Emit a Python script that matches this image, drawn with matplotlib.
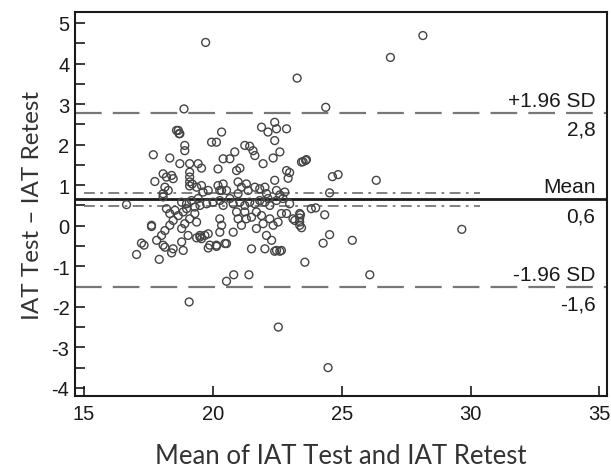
import matplotlib
matplotlib.use("Agg")
import matplotlib.pyplot as plt
from matplotlib.ticker import MultipleLocator

plt.rcParams['axes.unicode_minus'] = False

# mean of test and retest (x) and difference test - retest (y)
mean_vals = [
    19.72, 23.27, 18.88, 24.38, 28.15, 26.89,
    18.66, 18.72, 20.34, 19.95, 20.14, 17.69, 18.91, 18.91, 18.33, 18.72,
    19.10, 19.43, 19.56, 19.10, 19.10, 19.10, 19.10,
    20.40, 20.66, 20.85, 20.20, 20.92, 21.05,
    21.24, 21.43, 21.56, 21.63, 21.95, 22.34, 22.60,
    21.89, 22.14, 22.40, 22.47, 22.86, 22.40,
    22.86, 22.98, 22.92, 23.44, 23.63, 22.40,
    17.75, 18.07, 18.20, 18.40, 18.46, 18.14, 18.27, 18.07,
    19.37, 19.56, 19.62, 19.82, 20.20, 20.40, 20.34, 20.53,
    20.98, 21.11, 20.98, 21.30, 21.37, 21.63, 21.82, 22.02, 22.08, 22.47, 22.60, 22.79,
    23.82, 16.65,
    18.07, 18.79, 18.98, 19.17, 19.43, 19.50, 19.76, 20.01, 20.27, 20.40, 20.66, 20.79,
    21.05, 21.24, 21.43, 21.63, 21.82, 22.02, 22.14, 22.21, 22.47, 22.72, 22.98,
    18.20, 18.33, 18.53, 18.66, 18.85, 18.98, 19.10, 19.30, 19.37, 18.91, 18.79,
    18.46, 18.33, 18.14, 18.01, 17.82, 17.62, 18.07, 18.46, 18.79, 18.85, 19.04,
    19.50, 19.56, 19.82, 19.88, 20.14, 20.27, 20.34, 20.27, 20.53, 20.79,
    20.92, 20.98, 21.11, 21.24, 21.30, 21.50, 21.69, 21.89, 21.95,
    22.21, 22.34, 22.53, 22.66, 22.86, 22.08, 22.28, 22.47, 22.66,
    23.11, 23.37, 23.37, 21.50, 21.69,
    19.82, 20.14, 22.02, 22.40, 22.60, 18.40, 19.37, 19.50, 19.69, 20.47,
    17.23, 17.33, 17.04, 17.92, 18.14, 17.62,
    24.53, 23.99, 24.34, 23.18, 23.37, 23.40, 24.53, 24.28, 25.41, 23.57,
    26.09, 29.66, 26.34, 24.64, 24.86, 23.50, 23.60,
    24.47, 22.54, 19.08, 20.53, 20.81, 21.40,
    23.37, 23.44, 19.30, 19.20, 20.27, 18.59, 18.69,
]
diff_vals = [
    4.52, 3.64, 2.88, 2.92, 4.69, 4.15,
    2.35, 2.27, 2.31, 2.06, 2.06, 1.75, 1.98, 1.85, 1.67, 1.53,
    1.53, 1.53, 1.42, 1.32, 1.20, 1.08, 0.98,
    1.65, 1.65, 1.82, 1.40, 1.36, 1.42,
    1.98, 1.96, 1.85, 1.73, 1.53, 1.67, 1.82,
    2.43, 2.31, 2.55, 2.39, 2.39, 2.10,
    1.36, 1.31, 1.17, 1.57, 1.63, 1.12,
    1.09, 1.28, 1.20, 1.24, 1.16, 0.95, 0.87, 0.79,
    0.95, 0.99, 0.83, 0.87, 0.99, 1.03, 0.87, 0.87,
    1.08, 0.95, 0.79, 1.03, 0.87, 0.95, 0.91, 0.95, 0.79, 0.87, 0.76, 0.83,
    0.42, 0.52,
    0.71, 0.58, 0.54, 0.62, 0.67, 0.50, 0.54, 0.58, 0.62, 0.50, 0.67, 0.54,
    0.58, 0.50, 0.58, 0.54, 0.62, 0.58, 0.67, 0.50, 0.62, 0.67, 0.54,
    0.42, 0.30, 0.38, 0.25, 0.34, 0.42, 0.17, 0.30, 0.09, 0.05, -0.07,
    0.13, 0.01, -0.12, -0.24, -0.36, 0.01, -0.48, -0.57, -0.40, -0.61, -0.24,
    -0.24, -0.32, -0.20, -0.48, -0.48, 0.17, 0.01, -0.16, -0.44, -0.16,
    0.34, 0.17, 0.01, 0.34, 0.17, 0.21, 0.34, 0.25, 0.05,
    0.17, 0.01, 0.09, 0.30, 0.30, -0.24, -0.36, -0.61, -0.61,
    0.17, 0.09, 0.30, -0.57, -0.07,
    -0.55, -0.51, -0.57, -0.63, -0.63, -0.67, -0.30, -0.28, -0.24, -0.44,
    -0.43, -0.48, -0.71, -0.83, -0.53, -0.02,
    0.81, 0.44, 0.27, 0.13, 0.01, 0.27, -0.22, -0.43, -0.36, -0.90,
    -1.21, -0.09, 1.12, 1.21, 1.26, 1.58, 1.61,
    -3.50, -2.50, -1.88, -1.37, -1.21, -1.21,
    0.19, -0.05, 0.46, 1.03, 0.87, 2.35, 2.27,
]

mean_diff = 0.65
upper_loa = 2.79
lower_loa = -1.52
ci_high = 0.81
ci_low = 0.485

fig = plt.figure(figsize=(6.11, 4.77), dpi=100)
ax = fig.add_axes([0.1227, 0.1677, 0.871, 0.805])

ax.scatter(mean_vals, diff_vals, s=32, facecolors='none', edgecolors='#444444',
           linewidths=1.0, zorder=3)

ax.axhline(mean_diff, color='#1a1a1a', lw=2.0, zorder=2)
ax.axhline(upper_loa, color='#777777', lw=1.6, dashes=(12, 5), zorder=2)
ax.axhline(lower_loa, color='#777777', lw=1.6, dashes=(12, 5), zorder=2)
ax.plot([15, 30.35], [ci_high, ci_high], color='#777777', lw=1.3,
        dashes=(6, 3, 1.5, 3), zorder=2)
ax.plot([15, 30.35], [ci_low, ci_low], color='#777777', lw=1.3,
        dashes=(6, 3, 1.5, 3), zorder=2)

# labels for the lines, right side
lbl = dict(ha='right', fontsize=15, family='Liberation Sans', color='#1a1a1a')
ax.text(34.85, upper_loa + 0.17, '+1.96 SD', va='baseline', **lbl)
ax.text(34.85, upper_loa - 0.17, '2,8', va='top', **lbl)
ax.text(34.85, mean_diff + 0.17, 'Mean', va='baseline', **lbl)
ax.text(34.85, mean_diff - 0.17, '0,6', va='top', **lbl)
ax.text(34.85, lower_loa + 0.17, '-1.96 SD', va='baseline', **lbl)
ax.text(34.85, lower_loa - 0.17, '-1,6', va='top', **lbl)

ax.set_xlim(14.65, 35.3)
ax.set_ylim(-4.2, 5.27)
ax.set_xticks([15, 20, 25, 30, 35])
ax.set_yticks([-4, -3, -2, -1, 0, 1, 2, 3, 4, 5])
ax.yaxis.set_minor_locator(MultipleLocator(0.5))
ax.tick_params(axis='both', which='both', direction='in', color='#1a1a1a',
               labelsize=14.5, width=1.2, labelcolor='#1a1a1a')
ax.tick_params(axis='x', length=7, pad=6)
ax.tick_params(axis='y', which='both', length=7, pad=4)
for t in ax.get_xticklabels() + ax.get_yticklabels():
    t.set_family('Liberation Sans')
for s in ax.spines.values():
    s.set_linewidth(1.5)
    s.set_color('#1a1a1a')

ax.set_xlabel('Mean of IAT Test and IAT Retest', fontsize=18.5, family='Lato',
              labelpad=14, color='#333333')
ax.set_ylabel('IAT Test \u2013 IAT Retest', fontsize=17.5, family='Lato',
              labelpad=6, color='#333333')

fig.savefig('out.png', dpi=100)
